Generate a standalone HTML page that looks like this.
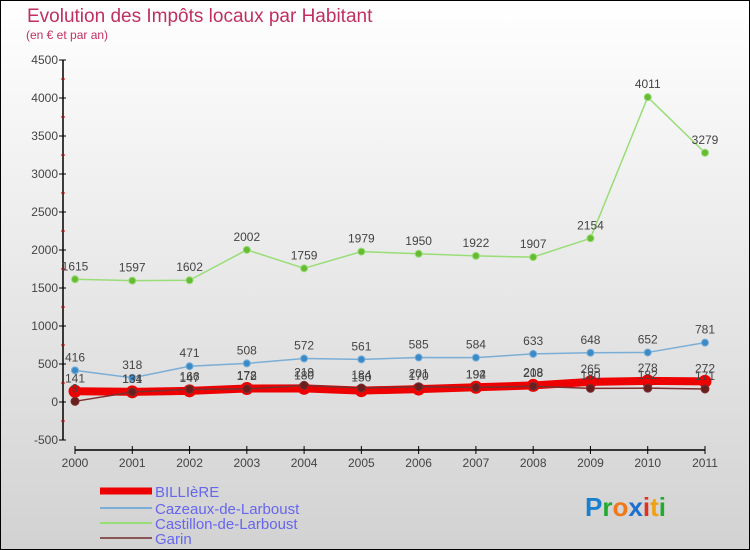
<!DOCTYPE html>
<html><head><meta charset="utf-8"><style>
body{margin:0}
svg{display:block;font-family:"Liberation Sans",sans-serif}
</style></head><body>
<svg width="750" height="550">
<defs><linearGradient id="bg" x1="0" y1="0" x2="0" y2="1"><stop offset="0" stop-color="#ffffff"/><stop offset="1" stop-color="#d2d2d2"/></linearGradient></defs>
<rect x="0.5" y="0.5" width="749" height="549" fill="url(#bg)" stroke="#000"/>
<text x="27" y="22" font-size="19" fill="#c0305f">Evolution des Impôts locaux par Habitant</text>
<text x="26" y="39" font-size="12" fill="#c0305f">(en € et par an)</text>
<g id="axes"></g>
<g id="series"></g>
<g>
<line x1="100" y1="491" x2="152" y2="491" stroke="#e00" stroke-width="7"/>
<text x="155" y="497" font-size="15" fill="#6666ee">BILLIèRE</text>
<line x1="100" y1="508" x2="152" y2="508" stroke="#7aaed6" stroke-width="2"/>
<text x="155" y="514" font-size="15" fill="#6666ee">Cazeaux-de-Larboust</text>
<line x1="100" y1="523" x2="152" y2="523" stroke="#99dd77" stroke-width="2"/>
<text x="155" y="529" font-size="15" fill="#6666ee">Castillon-de-Larboust</text>
<line x1="100" y1="538" x2="152" y2="538" stroke="#8a5555" stroke-width="2"/>
<text x="155" y="544" font-size="15" fill="#6666ee">Garin</text>
</g>
<text x="585" y="516" font-size="26" font-weight="bold"><tspan fill="#1b7fd0">P</tspan><tspan fill="#22aa33">r</tspan><tspan fill="#f07818">o</tspan><tspan fill="#1b6fd0">x</tspan><tspan fill="#e03020">i</tspan><tspan fill="#f0a010">t</tspan><tspan fill="#22aa33">i</tspan></text>
</svg>
<script>
const years=["2000","2001","2002","2003","2004","2005","2006","2007","2008","2009","2010","2011"];
const yTicks=[-500,0,500,1000,1500,2000,2500,3000,3500,4000,4500];
const billiere=[141,134,147,178,180,150,170,194,218,265,278,272];
const cazeaux=[416,318,471,508,572,561,585,584,633,648,652,781];
const castillon=[1615,1597,1602,2002,1759,1979,1950,1922,1907,2154,4011,3279];
const garin=[9,131,166,172,219,184,201,192,208,180,182,171];
const NS="http://www.w3.org/2000/svg";
const X=i=>75+i*(630/11);
const Y=v=>402-v*38/500;
function mk(t,a,p){const e=document.createElementNS(NS,t);for(const k in a)e.setAttribute(k,a[k]);p.appendChild(e);return e;}
const ax=document.getElementById('axes');
let l=mk('line',{x1:63,y1:60,x2:63,y2:440,stroke:'#000','stroke-width':1.5},ax);


yTicks.forEach(v=>{
 const t=mk('line',{x1:59,y1:Y(v),x2:66,y2:Y(v),stroke:'#000'},ax);
 
 
 const m=mk('line',{x1:61,y1:Y(v+250),x2:65,y2:Y(v+250),stroke:'#c00'},ax);
 if(v===4500)m.remove();
 const s=mk('text',{x:58,y:Y(v)+4,'font-size':12,fill:'#444','text-anchor':'end'},ax);
 s.textContent=v;
 
 
});
l=mk('line',{x1:75,y1:450,x2:705,y2:450,stroke:'#000','stroke-width':1.5},ax);


years.forEach((y,i)=>{
 mk('line',{x1:X(i),y1:446,x2:X(i),y2:454,stroke:'#000'},ax);
 const s=mk('text',{x:X(i),y:467,'font-size':12,fill:'#444','text-anchor':'middle'},ax);
 s.textContent=y;
 
 
});
const sg=document.getElementById('series');
function draw(name,data,color,w,r,dot,labels){
 const g=mk('g',{},sg);
 
 
 const p=mk('polyline',{points:data.map((v,i)=>X(i)+','+Y(v)).join(' '),fill:'none',stroke:color,'stroke-width':w,'stroke-linejoin':'round'},g);
 
 
 data.forEach((v,i)=>{
  const c=mk('circle',{cx:X(i),cy:Y(v),r:r,fill:dot,stroke:color,'stroke-width':1},g);
  
  
  if(labels){const t=mk('text',{x:X(i),y:Y(v)-9,'font-size':12,fill:'#444','text-anchor':'middle'},g);t.textContent=v;
  
  }
 });
}
draw('castillon',castillon,'#99dd77',1.5,3.5,'#66bb33',true);
draw('cazeaux',cazeaux,'#7aaed6',1.5,3.5,'#3a8ac8',true);
draw('billiere',billiere,'#ee0000',8,6,'#ee0000',true);
draw('garin',garin,'#7a3030',1.5,4,'#6a1f1f',true);
</script>
</body></html>
